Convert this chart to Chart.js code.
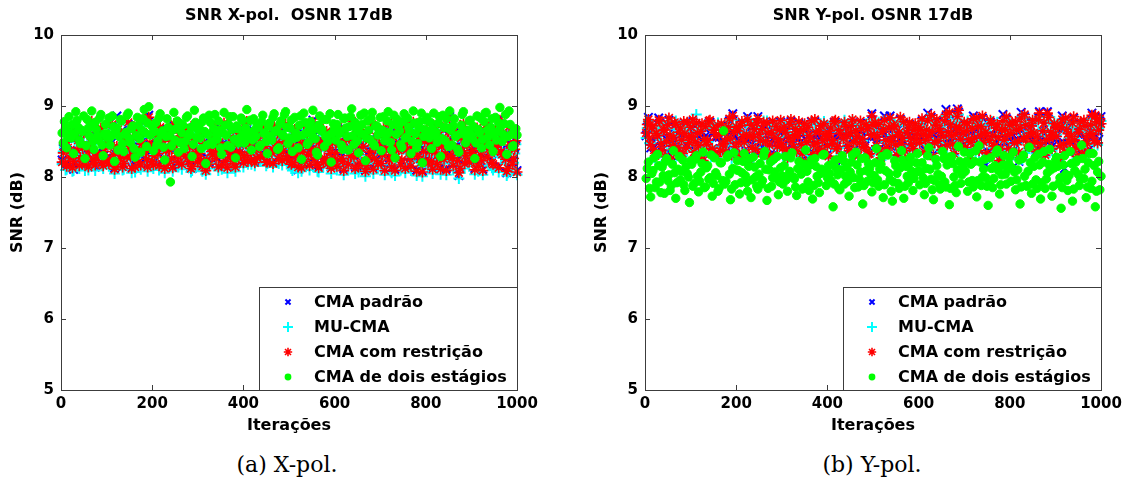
<!DOCTYPE html>
<html>
<head>
<meta charset="utf-8">
<script src="https://cdn.jsdelivr.net/npm/chart.js@4.4.1/dist/chart.umd.min.js"></script>
<style>
  html, body { margin: 0; padding: 0; background: #fff; }
  body { width: 1127px; height: 490px; position: relative; overflow: hidden; }
  .panel { position: absolute; top: 0; width: 563px; height: 445px; }
  .cap { position: absolute; top: 451px; width: 300px; text-align: center;
         font-family: "DejaVu Serif", "Liberation Serif", serif; font-size: 22px; line-height: 28px; color: #000; }
</style>
</head>
<body>
<div class="panel" style="left:0px"><canvas id="c1" width="563" height="445"></canvas></div>
<div class="panel" style="left:564px"><canvas id="c2" width="563" height="445"></canvas></div>
<div class="cap" style="left:137px">(a) X-pol.</div>
<div class="cap" style="left:722px">(b) Y-pol.</div>
<script>
// ---------- data ----------
const seriesNames = ['CMA padrão', 'MU-CMA', 'CMA com restrição', 'CMA de dois estágios'];
const chartTitles = ['SNR X-pol.  OSNR 17dB', 'SNR Y-pol. OSNR 17dB'];
const xTickValues = [0, 200, 400, 600, 800, 1000];
const yTickValues = [5, 6, 7, 8, 9, 10];
const iterationStep = 2.5;
const iterations = Array.from({length: 400}, (_, i) => iterationStep * (i + 1));

// X-pol.
const xpolPadrao = [
8.24,8.40,8.45,8.16,8.18,8.47,8.62,8.30,8.37,8.15,8.11,8.54,8.69,8.35,8.55,8.19,8.30,8.41,8.44,8.66,8.15,8.33,8.60,8.18,8.40,8.45,8.75,8.26,8.21,8.14,8.58,8.35,8.33,8.52,8.66,8.23,8.19,8.31,8.49,8.27,
8.55,8.22,8.25,8.48,8.71,8.35,8.13,8.18,8.86,8.62,8.32,8.22,8.64,8.18,8.16,8.57,8.53,8.31,8.74,8.36,8.31,8.14,8.52,8.68,8.17,8.30,8.65,8.24,8.42,8.20,8.50,8.59,8.78,8.38,8.22,8.17,8.87,8.45,8.43,8.25,
8.20,8.33,8.56,8.45,8.36,8.19,8.67,8.50,8.48,8.26,8.14,8.40,8.61,8.22,8.41,8.47,8.23,8.16,8.72,8.41,8.54,8.32,8.17,8.59,8.35,8.21,8.60,8.38,8.26,8.43,8.64,8.25,8.45,8.14,8.12,8.50,8.70,8.31,8.39,8.24,
8.51,8.36,8.26,8.18,8.59,8.44,8.10,8.27,8.47,8.21,8.57,8.39,8.34,8.52,8.68,8.29,8.40,8.17,8.46,8.62,8.20,8.43,8.73,8.25,8.43,8.16,8.55,8.35,8.30,8.45,8.62,8.22,8.17,8.38,8.49,8.31,8.38,8.58,8.66,8.23,
8.33,8.44,8.75,8.25,8.49,8.38,8.21,8.55,8.60,8.23,8.42,8.30,8.52,8.47,8.31,8.64,8.67,8.34,8.46,8.24,8.24,8.49,8.56,8.39,8.37,8.22,8.69,8.44,8.51,8.59,8.28,8.36,8.58,8.26,8.40,8.47,8.71,8.29,8.32,8.42,
8.49,8.21,8.17,8.44,8.64,8.32,8.41,8.10,8.53,8.50,8.16,8.38,8.70,8.25,8.48,8.57,8.34,8.19,8.59,8.42,8.80,8.28,8.33,8.54,8.15,8.16,8.66,8.45,8.52,8.24,8.24,8.58,8.61,8.22,8.44,8.36,8.14,8.51,8.55,8.27,
8.37,8.18,8.68,8.49,8.50,8.29,8.19,8.12,8.63,8.56,8.42,8.21,8.51,8.33,8.76,8.46,8.31,8.15,8.47,8.61,8.13,8.40,8.67,8.24,8.46,8.55,8.10,8.19,8.59,8.30,8.38,8.46,8.71,8.14,8.29,8.43,8.53,8.22,8.48,8.63,
8.22,8.34,8.65,8.12,8.43,8.52,8.73,8.27,8.34,8.11,8.54,8.48,8.11,8.31,8.61,8.41,8.50,8.20,8.21,8.58,8.69,8.15,8.41,8.47,8.50,8.29,8.18,8.45,8.74,8.36,8.47,8.10,8.26,8.55,8.58,8.24,8.09,8.39,8.47,8.26,
8.64,8.23,8.39,8.45,8.19,8.14,8.70,8.38,8.48,8.21,8.55,8.30,8.13,8.46,8.67,8.28,8.36,8.12,8.49,8.61,8.85,8.33,8.24,8.19,8.62,8.44,8.43,8.26,8.02,8.15,8.52,8.40,8.72,8.22,8.33,8.49,8.45,8.24,8.60,8.37,
8.40,8.26,8.12,8.50,8.66,8.18,8.47,8.34,8.20,8.11,8.57,8.50,8.71,8.31,8.42,8.53,8.50,8.23,8.15,8.39,8.63,8.45,8.49,8.16,8.83,8.38,8.35,8.57,8.54,8.28,8.06,8.15,8.68,8.48,8.45,8.21,8.23,8.42,8.54,8.09];
const xpolMU = [
8.18,8.36,8.42,8.10,8.11,8.40,8.59,8.25,8.31,8.08,8.09,8.50,8.66,8.32,8.49,8.12,8.22,8.38,8.38,8.57,8.09,8.26,8.57,8.10,8.33,8.43,8.71,8.19,8.16,8.09,8.52,8.28,8.27,8.49,8.63,8.16,8.12,8.25,8.43,8.19,
8.52,8.15,8.17,8.41,8.68,8.27,8.05,8.12,8.40,8.58,8.29,8.20,8.58,8.10,8.11,8.50,8.47,8.24,8.73,8.33,8.24,8.06,8.50,8.64,8.07,8.26,8.62,8.16,8.35,8.11,8.44,8.56,8.77,8.30,8.19,8.08,8.80,8.42,8.36,8.15,
8.12,8.27,8.54,8.36,8.28,8.10,8.66,8.47,8.41,8.17,8.06,8.33,8.60,8.13,8.34,8.44,8.20,8.08,8.70,8.38,8.47,8.24,8.14,8.56,8.28,8.11,8.53,8.30,8.23,8.40,8.63,8.16,8.37,8.07,8.09,8.47,8.68,8.22,8.31,8.15,
8.49,8.28,8.17,8.08,8.57,8.41,8.04,8.18,8.39,8.12,8.55,8.30,8.27,8.49,8.66,8.19,8.32,8.09,8.44,8.60,8.11,8.35,8.71,8.16,8.35,8.06,8.53,8.26,8.21,8.42,8.60,8.12,8.08,8.30,8.47,8.21,8.30,8.55,8.64,8.14,
8.26,8.40,8.73,8.18,8.41,8.30,8.18,8.52,8.58,8.16,8.34,8.22,8.50,8.39,8.22,8.60,8.65,8.27,8.38,8.16,8.19,8.45,8.54,8.31,8.29,8.14,8.67,8.37,8.43,8.56,8.19,8.28,8.56,8.17,8.32,8.45,8.69,8.21,8.24,8.40,
8.47,8.12,8.09,8.36,8.62,8.23,8.33,8.06,8.51,8.42,8.08,8.29,8.68,8.17,8.40,8.55,8.26,8.10,8.57,8.34,8.72,8.21,8.30,8.46,8.08,8.07,8.64,8.37,8.44,8.15,8.20,8.50,8.59,8.13,8.36,8.29,8.05,8.43,8.53,8.18,
8.29,8.10,8.66,8.41,8.42,8.20,8.15,8.03,8.61,8.47,8.34,8.12,8.49,8.24,8.74,8.38,8.21,8.05,8.45,8.59,8.07,8.31,8.65,8.14,8.38,8.52,8.01,8.10,8.57,8.21,8.30,8.43,8.69,8.05,8.19,8.35,8.51,8.13,8.40,8.61,
8.13,8.25,8.63,8.03,8.35,8.50,8.71,8.18,8.25,8.06,8.52,8.39,8.02,8.22,8.59,8.33,8.42,8.10,8.17,8.56,8.67,8.06,8.33,8.48,8.48,8.20,8.09,8.37,8.72,8.28,8.39,8.02,8.22,8.47,8.56,8.15,8.01,8.30,8.45,8.17,
8.62,8.14,8.30,8.42,8.15,8.05,8.68,8.29,8.40,8.11,8.53,8.21,8.04,8.37,8.65,8.19,8.27,8.03,8.47,8.58,8.77,8.24,8.21,8.10,8.60,8.36,8.35,8.17,7.98,8.06,8.50,8.31,8.70,8.12,8.24,8.41,8.43,8.15,8.58,8.28,
8.32,8.17,8.04,8.48,8.64,8.08,8.39,8.25,8.16,8.03,8.55,8.41,8.69,8.22,8.34,8.51,8.48,8.13,8.10,8.30,8.61,8.36,8.41,8.07,8.75,8.29,8.27,8.55,8.52,8.19,8.02,8.06,8.66,8.39,8.37,8.11,8.20,8.33,8.46,8.03];
const xpolRestricao = [
8.21,8.34,8.48,8.19,8.15,8.41,8.66,8.27,8.34,8.13,8.22,8.57,8.72,8.38,8.52,8.16,8.27,8.45,8.41,8.62,8.18,8.29,8.63,8.14,8.37,8.49,8.78,8.23,8.24,8.17,8.55,8.31,8.30,8.58,8.69,8.20,8.16,8.36,8.46,8.24,
8.58,8.19,8.22,8.44,8.74,8.31,8.11,8.15,8.43,8.67,8.35,8.26,8.61,8.14,8.19,8.53,8.50,8.28,8.77,8.40,8.28,8.12,8.56,8.71,8.14,8.33,8.68,8.21,8.39,8.17,8.47,8.63,8.81,8.35,8.25,8.14,8.84,8.48,8.40,8.22,
8.17,8.30,8.59,8.42,8.33,8.16,8.70,8.54,8.45,8.23,8.12,8.37,8.64,8.19,8.38,8.50,8.26,8.13,8.75,8.44,8.51,8.29,8.20,8.62,8.32,8.18,8.57,8.35,8.29,8.46,8.67,8.22,8.42,8.12,8.15,8.53,8.73,8.28,8.36,8.21,
8.54,8.33,8.23,8.15,8.62,8.47,8.09,8.24,8.44,8.18,8.60,8.36,8.31,8.55,8.71,8.26,8.37,8.14,8.49,8.65,8.17,8.40,8.76,8.22,8.40,8.13,8.58,8.32,8.27,8.48,8.65,8.19,8.14,8.35,8.52,8.28,8.35,8.61,8.69,8.20,
8.30,8.47,8.78,8.22,8.46,8.35,8.24,8.58,8.63,8.20,8.39,8.27,8.55,8.44,8.28,8.67,8.70,8.31,8.43,8.21,8.21,8.52,8.59,8.36,8.34,8.19,8.72,8.41,8.48,8.62,8.25,8.33,8.61,8.23,8.37,8.50,8.74,8.26,8.29,8.45,
8.52,8.18,8.20,8.41,8.67,8.29,8.38,8.14,8.56,8.47,8.13,8.35,8.73,8.22,8.45,8.60,8.31,8.16,8.62,8.39,8.77,8.25,8.36,8.51,8.18,8.13,8.69,8.42,8.49,8.21,8.27,8.55,8.64,8.19,8.41,8.33,8.12,8.48,8.58,8.24,
8.34,8.15,8.71,8.46,8.47,8.26,8.22,8.09,8.66,8.53,8.39,8.18,8.54,8.30,8.79,8.43,8.28,8.12,8.50,8.64,8.16,8.37,8.70,8.21,8.43,8.58,8.08,8.16,8.62,8.27,8.35,8.49,8.74,8.11,8.26,8.40,8.56,8.19,8.45,8.66,
8.19,8.31,8.68,8.09,8.40,8.55,8.76,8.24,8.31,8.14,8.57,8.45,8.09,8.28,8.64,8.38,8.47,8.17,8.24,8.61,8.72,8.12,8.38,8.50,8.53,8.26,8.15,8.42,8.77,8.33,8.44,8.08,8.29,8.52,8.61,8.21,8.07,8.36,8.50,8.23,
8.67,8.20,8.36,8.48,8.22,8.11,8.73,8.35,8.45,8.18,8.58,8.27,8.11,8.43,8.70,8.25,8.33,8.09,8.52,8.64,8.82,8.30,8.27,8.16,8.65,8.41,8.40,8.23,8.06,8.12,8.55,8.37,8.75,8.19,8.30,8.46,8.48,8.21,8.63,8.34,
8.37,8.23,8.10,8.53,8.69,8.15,8.44,8.31,8.23,8.09,8.60,8.47,8.74,8.28,8.39,8.56,8.53,8.20,8.18,8.36,8.66,8.42,8.46,8.13,8.80,8.35,8.32,8.60,8.57,8.25,8.08,8.12,8.71,8.45,8.42,8.18,8.26,8.39,8.51,8.07];
const xpolDoisEstagios = [
8.62,8.48,8.78,8.70,8.41,8.56,8.85,8.63,8.55,8.74,8.33,8.61,8.92,8.80,8.70,8.52,8.47,8.66,8.64,8.86,8.26,8.44,8.81,8.69,8.58,8.72,8.93,8.50,8.39,8.77,8.67,8.58,8.52,8.83,8.88,8.45,8.30,8.61,8.74,8.56,
8.61,8.83,8.45,8.57,8.86,8.71,8.22,8.65,8.69,8.38,8.57,8.81,8.79,8.47,8.36,8.60,8.63,8.87,8.90,8.54,8.48,8.68,8.72,8.40,8.28,8.58,8.84,8.73,8.54,8.35,8.66,8.82,8.95,8.62,8.43,8.76,8.99,8.59,8.60,8.71,
8.37,8.64,8.76,8.45,8.51,8.83,8.89,8.60,8.65,8.42,8.24,8.57,8.82,8.70,8.58,7.93,8.44,8.66,8.91,8.52,8.68,8.79,8.35,8.49,8.75,8.62,8.73,8.40,8.50,8.84,8.86,8.58,8.62,8.70,8.29,8.46,8.94,8.77,8.56,8.67,
8.71,8.55,8.40,8.78,8.83,8.64,8.19,8.45,8.60,8.87,8.77,8.50,8.46,8.68,8.88,8.59,8.53,8.79,8.66,8.41,8.32,8.62,8.91,8.73,8.59,8.44,8.74,8.85,8.42,8.67,8.85,8.53,8.27,8.72,8.68,8.48,8.55,8.83,8.80,8.61,
8.48,8.69,8.95,8.57,8.63,8.80,8.38,8.52,8.82,8.66,8.57,8.74,8.70,8.43,8.45,8.78,8.87,8.62,8.61,8.50,8.33,8.71,8.76,8.58,8.52,8.84,8.89,8.64,8.66,8.39,8.41,8.75,8.79,8.60,8.58,8.88,8.92,8.70,8.47,8.55,
8.69,8.80,8.36,8.54,8.84,8.62,8.56,8.41,8.73,8.86,8.25,8.59,8.90,8.77,8.62,8.46,8.49,8.71,8.78,8.60,8.94,8.67,8.54,8.35,8.31,8.73,8.86,8.65,8.67,8.81,8.43,8.57,8.81,8.50,8.59,8.89,8.21,8.62,8.75,8.68,
8.52,8.74,8.88,8.61,8.64,8.45,8.39,8.82,8.83,8.69,8.57,8.38,8.71,8.85,8.96,8.58,8.46,8.77,8.68,8.51,8.34,8.63,8.87,8.74,8.60,8.90,8.23,8.55,8.79,8.66,8.53,8.82,8.91,8.47,8.44,8.72,8.72,8.59,8.63,8.84,
8.37,8.66,8.85,8.51,8.58,8.79,8.92,8.63,8.49,8.38,8.74,8.87,8.27,8.60,8.81,8.72,8.65,8.46,8.42,8.78,8.89,8.55,8.56,8.83,8.70,8.64,8.33,8.50,8.93,8.76,8.61,8.41,8.47,8.69,8.78,8.90,8.20,8.57,8.67,8.80,
8.84,8.62,8.55,8.77,8.40,8.68,8.90,8.58,8.63,8.49,8.76,8.85,8.29,8.54,8.87,8.70,8.51,8.82,8.69,8.43,8.93,8.66,8.45,8.72,8.82,8.57,8.58,8.39,8.35,8.61,8.73,8.88,8.92,8.64,8.48,8.56,8.66,8.79,8.80,8.60,
8.54,8.71,8.26,8.48,8.86,8.67,8.62,8.83,8.41,8.53,8.78,8.90,8.91,8.66,8.57,8.45,8.70,8.82,8.36,8.61,8.84,8.52,8.64,8.76,8.98,8.72,8.50,8.60,8.75,8.88,8.32,8.57,8.93,8.74,8.60,8.43,8.44,8.65,8.68,8.59];

// Y-pol.
const ypolPadrao = [
8.58,8.70,8.84,8.51,8.41,8.66,8.70,8.42,8.34,8.57,8.55,8.83,8.76,8.43,8.42,8.62,8.63,8.33,8.53,8.70,8.80,8.56,8.30,8.48,8.52,8.73,8.71,8.40,8.46,8.59,8.66,8.55,8.37,8.75,8.58,8.45,8.74,8.53,8.45,8.67,
8.60,8.78,8.32,8.52,8.73,8.59,8.47,8.31,8.61,8.72,8.27,8.56,8.68,8.49,8.56,8.76,8.77,8.37,8.36,8.63,8.63,8.55,8.33,8.70,8.56,8.40,8.72,8.49,8.50,8.62,8.39,8.58,8.67,8.79,8.50,8.35,8.89,8.60,8.46,8.68,
8.62,8.51,8.34,8.69,8.75,8.53,8.53,8.38,8.57,8.85,8.28,8.54,8.70,8.46,8.59,8.64,8.36,8.73,8.85,8.57,8.48,8.37,8.65,8.74,8.38,8.53,8.73,8.59,8.49,8.32,8.59,8.77,8.32,8.52,8.68,8.47,8.50,8.63,8.77,8.50,
8.44,8.67,8.60,8.40,8.31,8.52,8.71,8.78,8.53,8.46,8.56,8.65,8.40,8.53,8.75,8.61,8.50,8.26,8.63,8.72,8.26,8.52,8.67,8.55,8.58,8.78,8.35,8.49,8.78,8.60,8.51,8.40,8.61,8.69,8.42,8.54,8.72,8.57,8.54,8.47,
8.33,8.58,8.66,8.50,8.55,8.77,8.77,8.43,8.47,8.63,8.58,8.21,8.29,8.58,8.74,8.69,8.61,8.48,8.41,8.59,8.69,8.76,8.52,8.39,8.62,8.54,8.34,8.52,8.76,8.65,8.57,8.47,8.44,8.71,8.65,8.37,8.37,8.56,8.89,8.70,
8.57,8.74,8.48,8.53,8.71,8.40,8.31,8.60,8.64,8.86,8.55,8.45,8.42,8.66,8.86,8.53,8.53,8.70,8.68,8.49,8.35,8.60,8.60,8.81,8.50,8.52,8.75,8.40,8.19,8.59,8.66,8.74,8.58,8.50,8.43,8.64,8.72,8.57,8.64,8.67,
8.51,8.64,8.79,8.57,8.39,8.55,8.63,8.90,8.60,8.46,8.84,8.61,8.32,8.51,8.70,8.78,8.54,8.66,8.61,8.42,8.42,8.60,8.76,8.95,8.49,8.60,8.88,8.71,8.55,8.49,8.37,8.63,8.67,8.96,8.91,8.66,8.56,8.45,8.59,8.74,
8.45,8.62,8.73,8.50,8.30,8.53,8.65,8.86,8.58,8.40,8.80,8.68,8.40,8.55,8.68,8.83,8.52,8.60,8.17,8.37,8.34,8.55,8.77,8.72,8.61,8.47,8.47,8.66,8.71,8.55,8.27,8.43,8.63,8.88,8.55,8.63,8.82,8.56,8.43,8.70,
8.58,8.74,8.37,8.51,8.75,8.63,8.53,8.22,8.66,8.91,8.32,8.53,8.85,8.69,8.59,8.46,8.46,8.59,8.69,8.77,8.59,8.52,8.39,8.50,8.84,8.92,8.51,8.43,8.62,8.73,8.35,8.51,8.92,8.81,8.51,8.60,8.43,8.55,8.72,8.66,
8.54,8.69,8.28,8.47,8.67,8.86,8.49,8.12,8.80,8.73,8.58,8.52,8.33,8.55,8.73,8.83,8.55,8.44,8.38,8.60,8.64,8.75,8.47,8.36,8.77,8.70,8.53,8.50,8.38,8.57,8.70,8.90,8.63,8.51,8.85,8.80,8.51,8.63,8.79,8.85];
const ypolMU = [
8.55,8.69,8.78,8.48,8.48,8.72,8.66,8.27,8.27,8.63,8.61,8.73,8.73,8.52,8.35,8.70,8.70,8.22,8.47,8.78,8.79,8.62,8.22,8.39,8.58,8.68,8.79,8.30,8.39,8.68,8.72,8.49,8.30,8.71,8.64,8.36,8.72,8.60,8.51,8.74,
8.54,8.76,8.38,8.44,8.88,8.65,8.41,8.22,8.67,8.69,8.20,8.49,8.74,8.42,8.49,8.73,8.76,8.28,8.43,8.71,8.69,8.62,8.26,8.76,8.62,8.32,8.70,8.41,8.44,8.67,8.33,8.50,8.73,8.81,8.51,8.26,8.81,8.67,8.40,8.74,
8.68,8.44,8.28,8.74,8.72,8.59,8.46,8.30,8.63,8.78,8.21,8.60,8.76,8.39,8.60,8.71,8.42,8.78,8.78,8.63,8.54,8.30,8.63,8.79,8.31,8.47,8.79,8.65,8.42,8.27,8.65,8.74,8.25,8.58,8.74,8.40,8.56,8.69,8.76,8.44,
8.38,8.73,8.66,8.33,8.24,8.58,8.77,8.77,8.47,8.38,8.62,8.71,8.33,8.61,8.73,8.67,8.43,8.30,8.69,8.73,8.19,8.46,8.73,8.61,8.52,8.76,8.29,8.41,8.76,8.67,8.45,8.33,8.67,8.75,8.35,8.49,8.78,8.63,8.60,8.41,
8.26,8.64,8.72,8.44,8.49,8.75,8.75,8.37,8.40,8.69,8.64,8.26,8.22,8.51,8.80,8.74,8.55,8.41,8.34,8.65,8.75,8.78,8.46,8.32,8.68,8.60,8.27,8.45,8.74,8.71,8.51,8.40,8.38,8.75,8.71,8.29,8.30,8.62,8.81,8.76,
8.63,8.73,8.41,8.59,8.77,8.33,8.24,8.66,8.70,8.79,8.49,8.38,8.35,8.72,8.79,8.47,8.59,8.76,8.74,8.42,8.28,8.62,8.66,8.79,8.44,8.58,8.73,8.34,8.21,8.65,8.72,8.72,8.52,8.43,8.37,8.69,8.70,8.50,8.64,8.73,
8.45,8.70,8.77,8.63,8.32,8.49,8.69,8.83,8.54,8.39,8.81,8.67,8.26,8.45,8.76,8.77,8.48,8.71,8.67,8.35,8.36,8.54,8.74,8.86,8.42,8.61,8.86,8.77,8.61,8.43,8.30,8.57,8.73,8.81,8.88,8.72,8.50,8.38,8.65,8.75,
8.39,8.68,8.79,8.56,8.23,8.46,8.71,8.78,8.52,8.34,8.78,8.74,8.34,8.61,8.74,8.74,8.46,8.64,8.66,8.31,8.27,8.49,8.75,8.78,8.55,8.41,8.41,8.72,8.77,8.59,8.20,8.37,8.69,8.75,8.49,8.70,8.80,8.62,8.37,8.76,
8.64,8.71,8.31,8.45,8.73,8.69,8.47,8.25,8.72,8.84,8.25,8.59,8.84,8.76,8.59,8.40,8.40,8.65,8.75,8.77,8.65,8.46,8.33,8.60,8.77,8.85,8.44,8.36,8.68,8.78,8.28,8.57,8.85,8.79,8.57,8.66,8.37,8.61,8.78,8.72,
8.60,8.75,8.22,8.41,8.73,8.79,8.43,8.35,8.79,8.70,8.64,8.55,8.41,8.59,8.71,8.76,8.55,8.38,8.26,8.66,8.70,8.76,8.41,8.32,8.76,8.75,8.63,8.45,8.32,8.64,8.76,8.82,8.63,8.48,8.82,8.72,8.45,8.69,8.79,8.79];
const ypolRestricao = [
8.62,8.74,8.81,8.55,8.45,8.69,8.72,8.38,8.30,8.61,8.58,8.80,8.79,8.47,8.38,8.66,8.67,8.29,8.50,8.73,8.83,8.59,8.26,8.44,8.55,8.77,8.74,8.36,8.42,8.63,8.69,8.52,8.33,8.78,8.61,8.41,8.77,8.56,8.48,8.70,
8.57,8.81,8.35,8.49,8.76,8.62,8.44,8.28,8.64,8.75,8.23,8.53,8.71,8.46,8.52,8.79,8.80,8.34,8.40,8.67,8.66,8.58,8.29,8.73,8.59,8.37,8.75,8.45,8.47,8.65,8.36,8.54,8.70,8.82,8.54,8.31,8.86,8.63,8.43,8.71,
8.65,8.48,8.31,8.72,8.78,8.56,8.49,8.35,8.60,8.81,8.24,8.57,8.73,8.42,8.56,8.67,8.39,8.76,8.82,8.60,8.51,8.33,8.68,8.77,8.34,8.50,8.76,8.62,8.45,8.30,8.62,8.79,8.28,8.55,8.71,8.43,8.53,8.66,8.80,8.47,
8.41,8.70,8.63,8.37,8.27,8.55,8.74,8.81,8.50,8.42,8.59,8.68,8.36,8.57,8.78,8.64,8.46,8.33,8.66,8.75,8.22,8.49,8.70,8.58,8.55,8.79,8.32,8.45,8.81,8.63,8.48,8.36,8.64,8.72,8.38,8.52,8.75,8.60,8.57,8.44,
8.29,8.61,8.69,8.47,8.52,8.78,8.80,8.40,8.43,8.66,8.61,8.29,8.25,8.54,8.77,8.71,8.58,8.44,8.37,8.62,8.72,8.81,8.49,8.35,8.65,8.57,8.30,8.48,8.79,8.68,8.54,8.43,8.41,8.74,8.68,8.32,8.33,8.59,8.86,8.73,
8.60,8.77,8.44,8.56,8.74,8.36,8.27,8.63,8.67,8.80,8.52,8.41,8.38,8.69,8.83,8.50,8.56,8.73,8.71,8.45,8.31,8.59,8.63,8.84,8.47,8.55,8.78,8.37,8.24,8.62,8.69,8.77,8.55,8.46,8.40,8.66,8.75,8.53,8.61,8.70,
8.48,8.67,8.82,8.60,8.35,8.52,8.66,8.79,8.57,8.42,8.87,8.64,8.29,8.48,8.73,8.81,8.51,8.68,8.64,8.38,8.39,8.57,8.79,8.88,8.45,8.63,8.91,8.74,8.58,8.46,8.33,8.60,8.70,8.85,8.94,8.69,8.53,8.41,8.62,8.77,
8.42,8.65,8.76,8.53,8.26,8.49,8.68,8.82,8.55,8.39,8.83,8.71,8.37,8.58,8.71,8.86,8.49,8.61,8.63,8.34,8.30,8.52,8.80,8.75,8.58,8.43,8.44,8.69,8.74,8.56,8.23,8.40,8.66,8.79,8.52,8.67,8.85,8.59,8.40,8.73,
8.61,8.77,8.34,8.48,8.78,8.66,8.50,8.35,8.69,8.83,8.28,8.55,8.88,8.73,8.56,8.45,8.43,8.62,8.72,8.80,8.62,8.49,8.36,8.57,8.81,8.90,8.47,8.39,8.65,8.76,8.31,8.52,8.90,8.84,8.54,8.63,8.40,8.58,8.75,8.69,
8.57,8.72,8.25,8.44,8.70,8.81,8.46,8.35,8.83,8.67,8.61,8.49,8.38,8.57,8.76,8.85,8.52,8.41,8.29,8.63,8.67,8.78,8.44,8.33,8.80,8.72,8.56,8.47,8.35,8.61,8.73,8.87,8.60,8.51,8.87,8.78,8.48,8.66,8.82,8.75];
const ypolDoisEstagios = [
7.98,8.12,8.21,7.84,7.72,8.05,8.09,8.27,7.85,7.93,8.32,8.16,7.93,7.78,8.14,8.02,7.77,8.22,8.26,7.95,8.03,7.81,7.88,8.18,8.37,8.06,7.70,7.92,8.11,8.29,7.96,8.08,8.24,7.89,7.81,8.15,8.05,8.00,7.64,8.23,
8.18,7.87,7.91,8.25,8.30,8.01,7.79,7.94,8.07,8.19,8.35,7.85,7.86,8.13,8.16,7.97,7.99,8.31,7.73,7.91,8.27,8.06,8.02,7.80,7.84,8.20,8.20,7.95,8.65,7.90,7.94,8.28,8.31,8.04,7.68,7.83,8.12,8.34,7.89,8.10,
8.23,8.09,7.76,7.92,8.06,8.22,8.33,8.02,7.92,7.80,8.15,8.26,7.71,7.96,8.28,8.14,8.00,7.87,7.83,8.04,8.19,7.90,7.95,8.30,8.36,8.11,7.67,7.84,8.10,8.21,7.87,7.99,8.25,8.07,7.98,8.29,7.75,7.93,8.13,8.02,
7.90,8.16,8.29,7.96,7.80,8.03,8.08,8.27,8.34,8.00,7.97,7.86,7.74,8.12,8.22,8.09,8.04,7.83,7.85,8.18,8.38,8.08,7.93,7.81,8.17,8.24,7.69,7.88,8.26,8.15,8.01,7.92,7.78,8.05,8.11,8.31,8.32,8.06,7.88,7.99,
8.16,8.05,7.95,8.18,7.58,7.90,8.24,8.12,8.03,7.84,7.82,8.10,8.30,8.23,7.90,8.01,8.14,7.94,7.73,8.07,8.21,8.31,7.99,7.85,8.35,8.17,7.86,7.97,8.07,8.26,7.62,7.88,8.27,8.09,7.94,8.19,8.12,8.04,7.79,7.92,
8.02,8.20,8.40,7.96,7.87,8.11,8.18,8.29,7.71,7.89,8.09,8.33,8.31,8.05,7.96,7.80,7.66,7.93,8.23,8.16,8.05,7.91,7.84,8.13,8.37,8.24,7.70,7.87,8.15,8.01,7.92,8.19,8.28,8.08,7.81,7.98,8.06,8.20,8.33,8.09,
7.89,8.07,8.20,7.99,7.75,7.91,8.12,8.30,8.41,8.11,7.97,7.82,7.68,7.95,8.25,8.16,8.04,7.89,7.83,8.01,8.36,8.26,7.93,7.86,8.17,8.28,7.61,7.84,8.29,8.19,8.00,7.88,7.78,8.10,8.43,8.22,7.91,8.03,8.14,8.35,
8.08,8.22,7.80,7.93,8.33,8.18,7.95,7.86,8.22,8.37,7.72,7.95,8.44,8.21,7.88,8.00,8.11,8.25,7.99,7.87,7.60,7.90,8.27,8.12,7.85,7.98,8.16,8.34,8.38,8.09,7.76,7.89,8.03,8.17,8.30,8.04,7.90,8.11,8.19,8.28,
7.94,8.13,8.35,8.07,7.82,7.96,8.10,8.24,7.62,7.86,8.26,8.31,8.01,7.88,7.87,8.08,8.42,8.20,7.77,7.90,8.15,8.27,7.96,7.84,8.32,8.17,7.69,7.92,8.21,8.36,7.84,7.97,8.06,8.18,8.39,8.10,7.73,7.87,8.13,8.23,
8.28,8.15,7.91,7.99,7.56,7.85,8.17,8.30,8.04,7.95,7.81,8.02,8.36,8.19,7.66,7.83,8.09,8.21,8.24,8.04,7.88,7.97,8.45,8.26,7.98,8.11,7.71,7.86,8.20,8.33,7.84,7.94,8.33,8.16,7.58,7.80,8.07,8.22,7.82,8.01];

// ---------- styles ----------
const FONT = '"DejaVu Sans", "Liberation Sans", Arial, sans-serif';
const FRAME = '#3c3c3c';
const markerStyles = [
  {color: '#0000ff', pointStyle: 'crossRot', radius: 6,   width: 2,   order: 3},
  {color: '#00ffff', pointStyle: 'cross',    radius: 5.5, width: 2,   order: 2},
  {color: '#ff0000', pointStyle: 'star',     radius: 5.5, width: 1.6, order: 1},
  {color: '#00ff00', pointStyle: 'circle',   radius: 4.2, width: 1,   order: 0}
];

function toPoints(arr) { return arr.map((v, i) => ({x: iterations[i], y: v})); }

function makeDatasets(seriesList) {
  return seriesList.map((arr, k) => {
    const m = markerStyles[k];
    return {
      label: seriesNames[k],
      data: toPoints(arr),
      pointStyle: m.pointStyle,
      pointRadius: m.radius,
      pointBorderWidth: m.width,
      borderColor: m.color,
      backgroundColor: m.color,
      pointBackgroundColor: m.color,
      pointBorderColor: m.color,
      showLine: false,
      order: m.order,
      clip: false
    };
  });
}

function drawMarker(ctx, style, x, y, r) {
  ctx.save();
  ctx.strokeStyle = style.color; ctx.fillStyle = style.color; ctx.lineWidth = style.width;
  ctx.beginPath();
  const d = r * Math.SQRT1_2;
  if (style.pointStyle === 'crossRot' || style.pointStyle === 'star') {
    ctx.moveTo(x - d, y - d); ctx.lineTo(x + d, y + d);
    ctx.moveTo(x - d, y + d); ctx.lineTo(x + d, y - d);
  }
  if (style.pointStyle === 'cross' || style.pointStyle === 'star') {
    ctx.moveTo(x - r, y); ctx.lineTo(x + r, y);
    ctx.moveTo(x, y - r); ctx.lineTo(x, y + r);
  }
  ctx.stroke();
  if (style.pointStyle === 'circle') {
    ctx.beginPath(); ctx.arc(x, y, r, 0, Math.PI * 2); ctx.fill();
  }
  ctx.restore();
}

const framePlugin = {
  id: 'frameAndLegend',
  afterDraw(chart) {
    const {ctx, chartArea: a} = chart;
    const xs = chart.scales.x, ys = chart.scales.y;
    ctx.save();
    // title
    ctx.fillStyle = '#000';
    ctx.font = 'bold 16px ' + FONT;
    ctx.textAlign = 'center'; ctx.textBaseline = 'middle';
    ctx.fillText(chart.options.plugins.boxTitle.text, (a.left + a.right) / 2, 16);
    // frame
    ctx.strokeStyle = FRAME; ctx.lineWidth = 1;
    ctx.strokeRect(Math.round(a.left) + 0.5, Math.round(a.top) + 0.5,
                   Math.round(a.right - a.left), Math.round(a.bottom - a.top));
    // inward ticks
    ctx.beginPath();
    const tl = 5;
    xTickValues.slice(1, -1).forEach(v => {
      const px = Math.round(xs.getPixelForValue(v)) + 0.5;
      ctx.moveTo(px, a.bottom); ctx.lineTo(px, a.bottom - tl);
      ctx.moveTo(px, a.top); ctx.lineTo(px, a.top + tl);
    });
    yTickValues.slice(1, -1).forEach(v => {
      const py = Math.round(ys.getPixelForValue(v)) + 0.5;
      ctx.moveTo(a.left, py); ctx.lineTo(a.left + tl, py);
      ctx.moveTo(a.right, py); ctx.lineTo(a.right - tl, py);
    });
    ctx.stroke();
    // legend box
    const x0 = Math.round(a.right - 258), y0 = Math.round(a.bottom - 103);
    ctx.fillStyle = '#fff';
    ctx.fillRect(x0, y0, a.right - x0, a.bottom - y0);
    ctx.strokeStyle = FRAME;
    ctx.strokeRect(x0 + 0.5, y0 + 0.5, Math.round(a.right - x0), Math.round(a.bottom - y0));
    const legendR = [3.6, 5, 4.2, 3.4];
    chart.data.datasets.forEach((ds, i) => {
      const cy = y0 + 15 + 25 * i;
      drawMarker(ctx, markerStyles[i], x0 + 29, cy, legendR[i]);
      ctx.fillStyle = '#000';
      ctx.font = 'bold 16px ' + FONT;
      ctx.textAlign = 'left'; ctx.textBaseline = 'middle';
      ctx.fillText(ds.label, x0 + 55, cy + 1);
    });
    ctx.restore();
  }
};

function makeChart(id, seriesList, title, padLeft, padRight) {
  return new Chart(document.getElementById(id), {
    type: 'scatter',
    data: { datasets: makeDatasets(seriesList) },
    options: {
      responsive: false,
      animation: false,
      events: [],
      layout: { padding: { top: 35, left: padLeft, right: padRight, bottom: 0 } },
      plugins: {
        legend: { display: false },
        tooltip: { enabled: false },
        title: { display: false },
        boxTitle: { text: title }
      },
      scales: {
        x: {
          type: 'linear', min: 0, max: 1000,
          afterBuildTicks: s => { s.ticks = xTickValues.map(v => ({value: v})); },
          ticks: { color: '#000', padding: 5, font: { family: FONT, size: 15, weight: 'bold' }, maxRotation: 0,
                   callback: v => String(v) },
          grid: { display: false, drawTicks: false },
          border: { display: false },
          title: { display: true, text: 'Iterações', color: '#000', padding: { top: 0, bottom: 10 },
                   font: { family: FONT, size: 16, weight: 'bold' } },
          afterFit: s => { s.height = 55; }
        },
        y: {
          type: 'linear', min: 5, max: 10,
          afterBuildTicks: s => { s.ticks = yTickValues.map(v => ({value: v})); },
          ticks: { color: '#000', padding: 7, font: { family: FONT, size: 15, weight: 'bold' },
                   callback: v => String(v) },
          grid: { display: false, drawTicks: false },
          border: { display: false },
          title: { display: true, text: 'SNR (dB)', color: '#000', padding: { top: 8, bottom: 0 },
                   font: { family: FONT, size: 16, weight: 'bold' } },
          afterFit: s => { s.width = 61; }
        }
      }
    },
    plugins: [framePlugin]
  });
}

makeChart('c1', [xpolPadrao, xpolMU, xpolRestricao, xpolDoisEstagios], chartTitles[0], 0, 46);
makeChart('c2', [ypolPadrao, ypolMU, ypolRestricao, ypolDoisEstagios], chartTitles[1], 20, 26);
</script>
</body>
</html>
